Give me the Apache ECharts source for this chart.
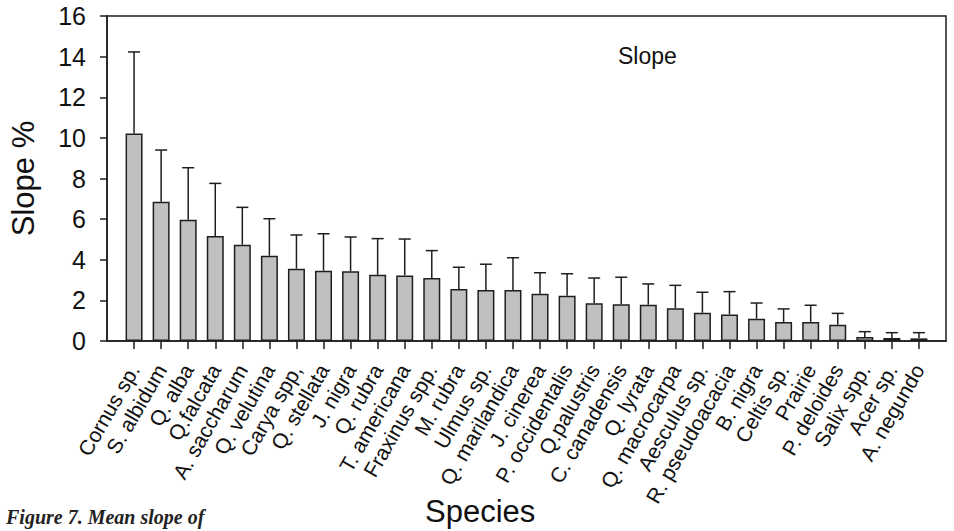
<!DOCTYPE html>
<html>
<head>
<meta charset="utf-8">
<script src="https://cdn.jsdelivr.net/npm/echarts@6/dist/echarts.min.js"></script>
<style>
html,body{margin:0;padding:0;background:#fff;}
#chart{width:954px;height:531px;}
</style>
</head>
<body>
<div id="chart"></div>
<script>
const species = ["Cornus sp.","S. albidum","Q. alba","Q.falcata","A. saccharum","Q. velutina","Carya spp,","Q. stellata","J. nigra","Q. rubra","T. americana","Fraxinus spp.","M. rubra","Ulmus sp.","Q. marilandica","J. cinerea","P. occidentalis","Q.palustris","C. canadensis","Q. lyrata","Q. macrocarpa","Aesculus sp.","R. pseudoacacia","B. nigra","Celtis sp.","Prairie","P. deloides","Salix spp.","Acer sp.","A. negundo"];
const meanSlope = [10.21,6.86,5.97,5.17,4.74,4.20,3.56,3.46,3.43,3.26,3.23,3.10,2.56,2.51,2.51,2.33,2.23,1.86,1.81,1.79,1.61,1.39,1.31,1.10,0.94,0.94,0.80,0.20,0.15,0.13];
const errSlope = [4.02,2.54,2.56,2.59,1.84,1.82,1.66,1.82,1.69,1.78,1.79,1.35,1.07,1.27,1.59,1.03,1.08,1.24,1.33,1.02,1.13,1.01,1.12,0.77,0.64,0.82,0.56,0.26,0.26,0.28];
const yTicks = [0,2,4,6,8,10,12,14,16];

const FONT = "'Liberation Sans', Arial, sans-serif";
const LINE = '#1e1e1e';
const idx = species.map((_, i) => i);

const chart = echarts.init(document.getElementById('chart'), null, {renderer: 'svg'});
chart.setOption({
  animation: false,
  backgroundColor: '#fff',
  grid: {left: 107, top: 16, right: 8, bottom: 190, show: true, borderColor: LINE, borderWidth: 1.5, backgroundColor: 'transparent'},
  xAxis: {
    type: 'value', min: -1, max: species.length, interval: 1,
    splitLine: {show: false},
    axisLine: {show: true, onZero: false, lineStyle: {color: LINE, width: 1.5}},
    axisTick: {show: true, customValues: idx, length: 8, lineStyle: {color: LINE, width: 1.5}},
    axisLabel: {
      customValues: idx, rotate: 60, margin: 25,
      fontFamily: FONT, fontSize: 21, color: '#111',
      formatter: v => species[Math.round(v)] || ''
    }
  },
  yAxis: {
    type: 'value', min: yTicks[0], max: yTicks[yTicks.length - 1], interval: 2,
    splitLine: {show: false},
    axisLine: {show: true, onZero: false, lineStyle: {color: LINE, width: 1.5}},
    axisTick: {show: true, length: 7, lineStyle: {color: LINE, width: 1.5}},
    axisLabel: {margin: 21, fontFamily: FONT, fontSize: 25, color: '#111'},
    name: 'Slope %', nameLocation: 'middle', nameGap: 68,
    nameTextStyle: {fontFamily: FONT, fontSize: 31, color: '#111'}
  },
  graphic: [
    {type: 'text', left: 648 - 30, top: 44, style: {text: 'Slope', font: "23px 'Liberation Sans', Arial, sans-serif", fill: '#111'}},
    {type: 'text', left: 425, top: 496, style: {text: 'Species', font: "31px 'Liberation Sans', Arial, sans-serif", fill: '#111'}},
    {type: 'text', left: 6, top: 507, style: {text: 'Figure 7. Mean slope of', font: "bold italic 20px 'Liberation Serif', 'Times New Roman', serif", fill: '#222'}}
  ],
  series: [
    {
      type: 'bar',
      data: meanSlope.map((v, i) => [i, v]),
      barWidth: 17,
      itemStyle: {color: '#c0c0c0', borderColor: LINE, borderWidth: 1.5},
      z: 2
    },
    {
      type: 'custom',
      data: meanSlope.map((v, i) => [i, v, v + errSlope[i]]),
      encode: {x: 0, y: [1, 2]},
      z: 3,
      renderItem: function (params, api) {
        const base = api.coord([api.value(0), api.value(1)]);
        const top = api.coord([api.value(0), api.value(2)]);
        const half = 6;
        const style = {stroke: LINE, lineWidth: 1.5, fill: null};
        return {
          type: 'group',
          children: [
            {type: 'line', shape: {x1: base[0], y1: base[1], x2: top[0], y2: top[1]}, style: style},
            {type: 'line', shape: {x1: top[0] - half, y1: top[1], x2: top[0] + half, y2: top[1]}, style: style}
          ]
        };
      }
    }
  ]
});
</script>
</body>
</html>
